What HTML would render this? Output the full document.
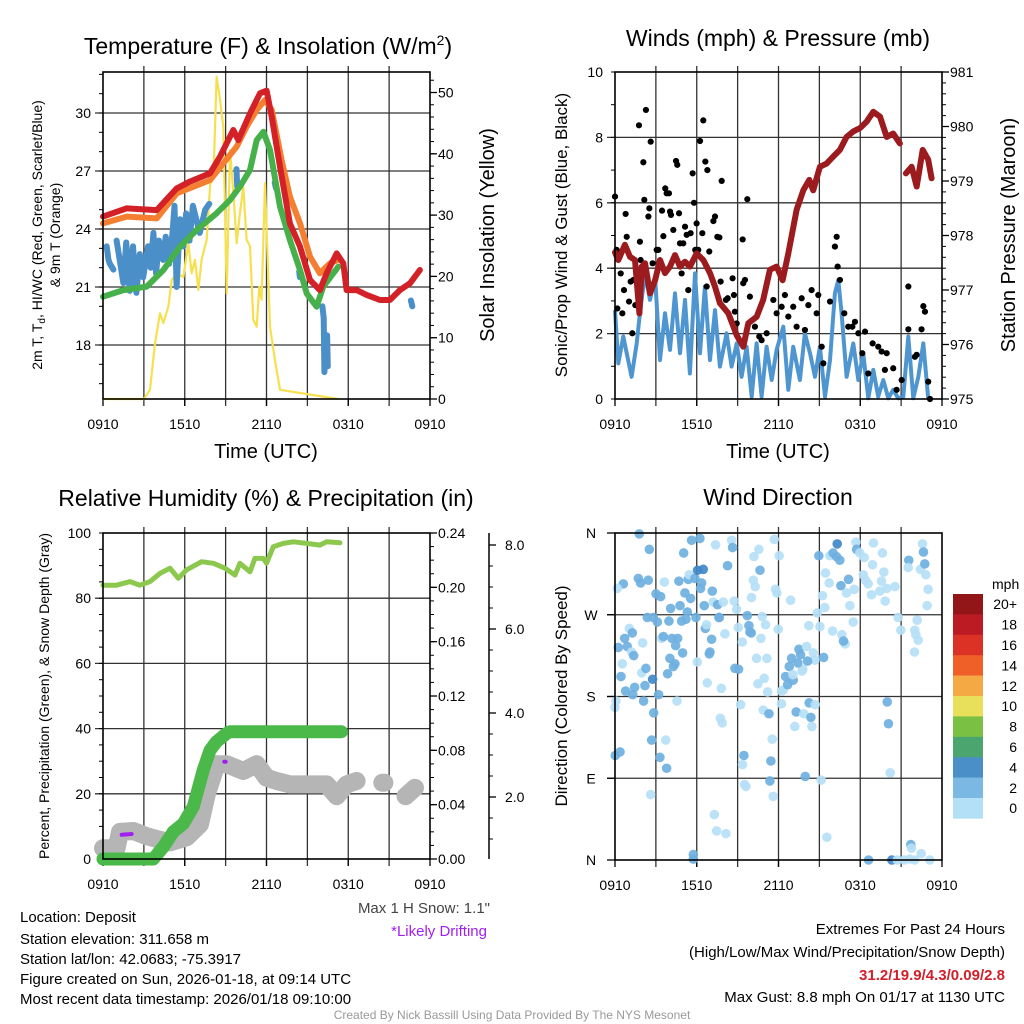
<!DOCTYPE html>
<html><head><meta charset="utf-8"><title>Deposit Meteogram</title>
<style>
html,body{margin:0;padding:0;background:#fff;}
svg{display:block;font-family:"Liberation Sans",Arial,sans-serif;}
</style></head>
<body>
<svg id="chart" width="1024" height="1024" viewBox="0 0 1024 1024" xmlns="http://www.w3.org/2000/svg">
<rect x="0" y="0" width="1024" height="1024" fill="#fff"/>
<g font-size="23" text-anchor="middle" fill="#000">
<text x="268" y="54">Temperature (F) &amp; Insolation (W/m<tspan dy="-9" font-size="14">2</tspan><tspan dy="9">)</tspan></text>
<text x="778" y="46">Winds (mph) &amp; Pressure (mb)</text>
<text x="266" y="506">Relative Humidity (%) &amp; Precipitation (in)</text>
<text x="778" y="505">Wind Direction</text>
</g>
<g fill="#000" text-anchor="middle">
<text x="266" y="458" font-size="20">Time (UTC)</text>
<text x="778" y="458" font-size="20">Time (UTC)</text>
<text font-size="14" transform="translate(42,235) rotate(-90)">2m T, T<tspan font-size="10" dy="3">d</tspan><tspan dy="-3">, HI/WC (Red, Green, Scarlet/Blue)</tspan></text>
<text font-size="14" transform="translate(60,235) rotate(-90)">&amp; 9m T (Orange)</text>
<text font-size="20" transform="translate(494,235) rotate(-90)">Solar Insolation (Yellow)</text>
<text font-size="17" transform="translate(567,235) rotate(-90)">Sonic/Prop Wind &amp; Gust (Blue, Black)</text>
<text font-size="20" transform="translate(1015,235) rotate(-90)">Station Pressure (Maroon)</text>
<text font-size="14" transform="translate(49,696) rotate(-90)">Percent, Precipitation (Green), &amp; Snow Depth (Gray)</text>
<text font-size="17" transform="translate(567,696) rotate(-90)">Direction (Colored By Speed)</text>
</g>
<g id="plots"></g>
<g font-size="15" fill="#000">
<text x="20" y="922">Location: Deposit</text>
<text x="20" y="944">Station elevation: 311.658 m</text>
<text x="20" y="964">Station lat/lon: 42.0683; -75.3917</text>
<text x="20" y="984">Figure created on Sun, 2026-01-18, at 09:14 UTC</text>
<text x="20" y="1004">Most recent data timestamp: 2026/01/18 09:10:00</text>
<text x="490" y="913" text-anchor="end" fill="#444">Max 1 H Snow: 1.1"</text>
<text x="487" y="936" text-anchor="end" fill="#a020f0">*Likely Drifting</text>
<text x="1005" y="934" text-anchor="end">Extremes For Past 24 Hours</text>
<text x="1005" y="957" text-anchor="end">(High/Low/Max Wind/Precipitation/Snow Depth)</text>
<text x="1005" y="980" text-anchor="end" fill="#d0202a" font-weight="bold">31.2/19.9/4.3/0.09/2.8</text>
<text x="1005" y="1002" text-anchor="end">Max Gust: 8.8 mph On 01/17 at 1130 UTC</text>
<text x="512" y="1019" text-anchor="middle" font-size="12" fill="#999">Created By Nick Bassill Using Data Provided By The NYS Mesonet</text>
</g>
</svg>
<script>
// ---------- data (hours since 0910 UTC) ----------
const timeTickLabels = ["0910","1510","2110","0310","0910"];
const tempTicks = [18,21,24,27,30];
const solarTicks = [0,10,20,30,40,50];
const windTicks = [0,2,4,6,8,10];
const pressTicks = [975,976,977,978,979,980,981];
const pctTicks = [0,20,40,60,80,100];
const precipTicks = [0.00,0.04,0.08,0.12,0.16,0.20,0.24];
const snowTicks = [2,4,6,8];
const dirTickLabels = ["N","E","S","W","N"];
const speedBins = ["0","2","4","6","8","10","12","14","16","18","20+"];
const speedColors = ["#b3e0f6","#7cb8e4","#4a8fc8","#4aa66e","#7ac143","#e8e05a","#f5a944","#ef6029","#dc3226","#bc1b23","#921518"];

const redT = [0,1.74,3.94,5.41,6.38,7.85,8.59,9.56,9.93,10.79,11.52,12.01,12.38,12.99,13.72,14.46,15.19,15.92,16.41,17.15,17.64,17.88,18.61,19.35,20.33,21.06,21.79,22.53,23.26];
const redV = [24.64,25.07,24.98,26.10,26.45,26.88,27.74,29.12,28.60,29.98,31.02,31.16,29.81,27.22,24.29,23.09,21.36,20.84,21.71,22.74,22.22,20.84,20.84,20.59,20.33,20.33,20.84,21.19,21.88];
const orangeT = [0,1.74,3.94,5.41,7.85,8.83,9.81,10.54,11.28,11.89,12.38,13.11,13.72,14.46,15.19,15.92,16.65,17.27];
const orangeV = [24.29,24.64,24.55,25.84,26.53,27.40,28.26,29.29,30.16,30.67,30.16,27.57,25.67,24.29,22.57,21.71,22.22,22.40];
const greenT = [0,1.50,3.21,4.43,5.65,6.87,8.34,9.32,10.05,10.79,11.28,11.77,12.26,12.99,13.72,14.46,14.95,15.68,16.17,16.90,17.27];
const greenV = [20.5,20.84,21.02,21.88,23.09,23.95,24.81,25.50,26.19,27.05,28.60,29.03,28.09,25.16,23.43,21.88,20.67,19.98,21.02,21.71,22.05];
const blueT = [0.27,0.4,0.51,0.76,null,1.0,1.5,1.7,1.95,2.2,2.45,2.7,2.95,3.3,3.5,3.7,3.9,4.1,4.4,4.6,4.85,5.1,5.25,5.4,5.65,5.9,6.1,6.35,6.6,7.1,7.5,7.8,null,9.8,9.85,null,12.6,12.7,null,14.4,14.45,null,16.1,16.2,16.25,16.35,16.45,16.5,null,22.6,22.7];
const blueV = [23.1,22.4,22.2,21.9,null,23.4,21.2,23.3,20.8,23.1,20.7,22.7,21.5,23.1,22.0,23.8,21.7,23.4,22.4,23.6,22.2,23.8,25.2,21.0,24.5,23.1,24.8,23.4,25.2,23.8,25.0,25.3,null,27.1,26.2,null,26.4,26.1,null,21.8,21.5,null,20.0,19.4,16.6,17.8,18.5,16.9,null,20.3,20.0];
const solarT = [0,3.0,3.45,3.82,4.18,4.43,4.80,5.04,5.41,5.90,6.26,6.51,6.75,7.00,7.24,7.61,7.85,8.15,8.34,8.59,8.83,9.08,9.32,9.57,9.81,10.05,10.30,10.54,10.79,11.03,11.28,11.47,11.64,11.89,12.26,12.62,12.99,17.27];
const solarV = [0,0,1.5,9.1,14.0,12.4,15.1,19.4,20.5,19.9,25.4,20.5,22.7,17.8,22.7,26.0,34.6,39.0,52.6,48.9,44.4,17.2,40.6,33.6,25.4,30.3,34.6,26.0,24.9,12.9,11.8,18.3,16.2,35.2,11.8,6.4,1.5,0];

const windT = [0,.24,.61,.86,1.22,1.59,1.83,2.20,2.57,2.94,3.30,3.67,4.04,4.40,4.77,5.14,5.50,5.87,6.24,6.60,6.97,7.34,7.70,8.19,8.56,8.93,9.29,9.66,10.03,10.39,10.76,11.13,11.50,11.86,12.35,12.72,13.08,13.57,13.94,14.31,14.68,15.04,15.41,15.78,16.14,16.39,16.63,17.00,17.49,17.86,18.22,18.59,18.96,19.32,19.69,20.06,20.42,20.79,21.16,21.53,21.89,22.26,22.63,22.99];
const windV = [2.72,1.09,1.91,1.40,.68,1.70,2.62,3.84,3.03,3.74,1.19,2.62,1.50,3.23,1.40,3.03,.78,3.84,1.40,3.44,1.19,2.72,.99,2.01,.99,1.70,.68,1.60,.07,1.70,.07,1.60,.58,1.50,2.21,.28,1.60,.58,2.01,1.40,.68,1.60,.07,1.19,3.23,3.64,2.62,.68,1.70,.58,1.40,.02,.89,.07,.58,.02,.28,.02,.07,1.91,.02,.68,1.70,.02];
const gustT = [0,.12,.17,.42,.54,.66,.78,.86,1.03,1.15,1.27,1.35,1.49,1.76,1.83,1.88,2.08,2.15,2.27,2.45,2.52,2.62,2.76,3.06,3.18,3.45,3.55,3.69,3.79,3.96,4.04,4.11,4.28,4.48,4.57,4.70,4.77,4.89,5.01,5.14,5.26,5.38,5.55,5.70,5.80,5.89,5.99,6.11,6.24,6.41,6.48,6.63,6.73,6.78,6.92,7.22,7.34,7.51,7.66,7.75,7.83,8.14,8.27,8.63,8.73,8.80,8.93,9.37,9.41,9.54,9.71,9.90,10.27,10.59,10.76,11.13,11.62,11.86,12.23,12.47,12.72,13.08,13.33,13.70,13.94,14.19,14.43,14.80,14.92,15.17,15.29,15.78,16.14,16.27,16.34,16.51,16.83,17.12,17.42,17.61,17.86,18.15,18.35,18.59,18.91,19.32,19.57,19.81,19.94,20.42,20.67,21.04,21.53,21.53,22.01,22.14,22.50,22.63,22.75,22.99,23.12];
const gustV = [6.19,4.56,2.77,3.84,2.62,3.33,5.66,4.96,2.98,3.59,2.01,3.64,2.87,8.37,4.81,4.25,7.24,6.09,8.84,5.58,5.83,7.87,4.15,4.56,4.56,5.76,4.98,6.44,6.29,6.29,5.73,5.63,5.17,7.28,7.16,5.68,4.76,3.84,4.76,5.27,5.02,3.33,5.07,6.90,6.00,4.56,5.37,4.56,7.89,5.07,8.52,7.26,3.44,7.00,4.51,5.44,5.58,4.96,4.94,3.59,6.67,3.03,3.08,3.69,3.18,2.67,2.31,4.88,3.54,3.64,6.11,3.13,2.21,1.91,1.80,2.01,3.03,2.62,2.82,3.18,2.52,2.82,2.21,3.08,2.11,2.87,3.33,2.62,3.18,1.60,1.09,2.98,4.66,4.96,4.05,3.64,2.62,2.21,2.21,2.36,2.01,1.40,2.06,.78,1.70,1.60,1.45,.89,1.40,.94,.28,.58,3.44,2.13,1.29,1.35,2.13,2.84,2.67,.53,0];
const pressT = [0,.24,.73,1.10,1.47,1.79,1.96,2.20,2.57,2.94,3.30,3.67,4.04,4.40,4.77,5.14,5.50,5.99,6.48,6.97,7.34,7.70,8.32,8.93,9.42,9.78,10.40,10.88,11.37,11.86,12.30,12.72,13.33,13.82,14.26,14.55,15.04,15.53,16.02,16.51,17.00,17.49,17.98,18.47,18.96,19.45,19.94,20.42,20.91,null,21.35,21.77,22.14,22.58,22.99,23.24];
const pressV = [977.69,977.55,977.83,977.61,977.55,976.57,977.43,977.49,976.94,977.18,977.55,977.31,977.43,977.64,977.43,977.52,977.43,977.67,977.55,977.31,977.06,976.76,976.57,976.17,975.96,976.39,976.51,976.82,977.37,977.43,977.18,977.67,978.47,978.83,979.02,978.83,979.26,979.32,979.45,979.57,979.81,979.91,979.97,980.09,980.27,980.18,979.81,979.87,979.69,null,979.14,979.26,978.90,979.57,979.39,979.05];

const rhT = [0,1.0,1.98,2.7,3.45,4.18,4.92,5.53,6.14,7.24,8.10,8.95,9.69,10.05,10.79,11.15,11.77,12.0,12.5,13.23,13.97,14.95,15.92,16.41,17.39];
const rhV = [84.0,84.0,85.1,84.0,85.1,87.6,89.2,86.1,88.7,91.2,90.7,89.2,87.1,90.7,88.1,92.2,92.2,90.7,95.8,96.8,97.3,96.8,96.3,97.3,97.0];
const precipT = [0,3.69,4.43,5.16,5.89,6.63,7.36,7.85,8.34,9.07,9.32,17.5];
const precipV = [0,0,0.009,0.020,0.026,0.0385,0.0655,0.080,0.0864,0.0925,0.0937,0.0937];
const snowT = [0,1.0,1.25,2.23,3.2,3.94,4.92,6.14,7.12,7.61,8.34,9.07,10.30,11.28,12.0,12.74,13.72,14.95,16.41,17.15,17.88,18.61,null,20.5,20.65,null,22.2,22.9];
const snowV = [0.78,0.78,1.17,1.19,1.07,1.00,0.92,1.04,1.35,2.06,2.78,2.78,2.62,2.78,2.46,2.38,2.30,2.30,2.30,2.02,2.30,2.38,null,2.34,2.34,null,2.02,2.22];
const driftT = [1.37,2.1,null,8.9,9.0];
const driftV = [1.1,1.12,null,2.84,2.84];

const dirT = [1.78,2.52,0.61,0.17,1.71,1.88,2.44,3.01,3.35,3.62,4.08,4.69,4.77,5.04,5.13,5.31,5.38,5.45,5.55,5.62,5.87,5.94,6.06,6.23,6.28,6.36,6.48,6.55,7.14,7.21,7.53,7.63,7.95,7.38,8.26,8.56,8.63,8.75,8.92,10.02,10.15,10.29,10.20,10.56,10.64,11.69,11.78,11.88,12.05,12.89,2.37,2.81,3.11,3.96,4.89,5.21,6.63,6.72,7.09,7.65,8.07,9.05,9.34,9.71,9.83,9.90,10.0,10.71,10.81,11.05,11.98,14.84,15.04,14.23,15.40,15.23,14.96,15.72,15.45,15.77,16.01,16.26,16.31,16.50,16.58,16.99,17.14,17.24,17.56,17.68,17.73,17.97,18.29,18.22,18.39,18.58,18.83,18.90,18.97,19.44,19.56,19.63,19.73,19.83,19.95,20.54,20.78,20.98,21.56,21.52,22.0,22.08,22.18,22.25,21.98,22.42,22.57,22.64,22.74,22.81,22.98,22.91,15.97,16.65,16.89,16.77,17.48,1.05,1.27,0.71,0.24,0.90,2.03,1.22,1.37,0.54,1.96,2.27,2.76,2.20,0.44,0.78,1.30,1.44,0.07,0,2.10,3.20,2.84,3.42,3.55,4.18,4.60,4.45,4.03,4.40,4.28,3.86,4.96,6.04,6.77,7.80,6.97,6.92,8.80,9.07,9.22,10.39,11.15,10.49,10.95,11.20,12.22,12.35,12.52,12.67,12.79,12.96,13.08,13.50,13.62,14.06,14.55,14.67,13.72,13.79,14.13,13.42,15.31,13.06,12.22,10.88,11.30,13.30,13.86,14.25,14.69,14.38,14.45,13.20,19.98,20.07,20.20,7.73,7.87,4.55,2.69,3.72,0.37,0.02,3.30,3.79,9.46,9.36,11.54,11.44,13.96,15.13,11.37,11.61,9.51,9.61,2.62,7.29,7.46,8.14,15.55,5.75,5.75,21.71,21.76,22.47,18.61,20.32,20.71,21.22,21.64,22.0,23.1];
const dirV = [359,342,304,299,310,305,308,293,290,306,277,307,280,338,294,273,309,314,288,352,310,267,319,354,299,305,320,280,296,284,281,267,284,347,324,352,344,285,276,289,308,301,334,342,319,353,298,294,335,286,267,267,262,263,263,265,255,259,243,267,249,256,240,269,258,251,250,244,268,259,254,272,257,258,278,291,335,305,316,335,338,334,348,330,302,294,309,280,298,350,342,338,333,314,308,304,292,325,349,296,307,338,317,285,299,301,267,253,330,322,253,248,264,242,229,320,348,339,326,314,298,280,252,248,238,241,262,255,250,244,234,235,239,229,225,216,206,211,199,192,202,186,182,190,175,168,175,182,162,244,246,244,244,236,222,216,213,205,228,218,195,189,229,227,211,210,171,222,222,194,200,185,186,187,202,193,213,222,198,232,226,235,228,220,208,210,219,217,223,204,172,165,161,163,161,173,171,157,147,147,174,150,96,156,151,175,132,132,119,115,113,101,115,105,133,109,92,88,87,70,83,81,72,50,32,29,25,6,1,17,13,7,0,0,0,0,1,0,0];
const dirS = [3,3,3,1,3,3,3,3,3,1,3,3,3,3,3,3,3,1,3,3,3,3,5,3,3,3,5,3,3,1,3,3,1,1,3,1,3,1,1,1,1,1,1,1,3,1,1,1,1,1,3,3,3,3,3,3,3,1,3,3,1,1,1,3,3,3,3,1,1,1,1,1,1,1,1,1,3,1,1,1,3,3,5,3,3,1,3,1,1,1,3,1,1,1,1,1,1,1,1,1,1,1,1,1,1,1,1,1,3,1,1,1,1,1,1,1,1,3,3,1,1,1,1,1,1,3,1,1,3,3,3,3,1,1,3,1,1,3,5,3,3,3,3,3,1,1,3,3,3,1,3,3,3,3,3,3,3,3,3,1,1,1,3,3,3,3,1,1,1,1,1,1,1,1,3,3,3,3,3,3,3,1,1,1,1,1,3,3,3,1,1,1,3,3,1,3,1,3,1,1,3,3,1,1,1,1,3,1,3,3,3,3,3,1,1,3,3,1,3,1,1,1,1,1,1,1,1,3,3,3,1,1,3,5,1,1,1,1,1,1,1,1,1,1];

// ---------- helpers ----------
const NS = "http://www.w3.org/2000/svg";
const root = document.getElementById('plots');
function mk(tag, attrs, parent){
  const e = document.createElementNS(NS, tag);
  for (const k in attrs) e.setAttribute(k, attrs[k]);
  (parent || root).appendChild(e);
  return e;
}
function pathFrom(ts, vs, fx, fy){
  let d = "", pen = false;
  for (let i = 0; i < ts.length; i++){
    if (ts[i] === null || vs[i] === null){ pen = false; continue; }
    d += (pen ? "L" : "M") + fx(ts[i]).toFixed(1) + "," + fy(vs[i]).toFixed(1);
    pen = true;
  }
  return d;
}
const dotColors = ["#b6e0f6","#6fb0e0","#3f88c8"];
function speedColor(s){
  if (s < 2) return dotColors[0];
  if (s < 4) return dotColors[1];
  if (s < 6) return dotColors[2];
  return speedColors[Math.min(10, Math.floor(s / 2))];
}

const panels = {
  temp:  {x0:103, x1:430, y0:72,  y1:399},
  wind:  {x0:615, x1:942, y0:72,  y1:399},
  rh:    {x0:103, x1:430, y0:533, y1:859},
  dir:   {x0:615, x1:942, y0:533, y1:860}
};
function xScale(p){ return t => p.x0 + t * (p.x1 - p.x0) / 24; }

function drawFrame(name, p, hGrid){
  const g = mk('g', {});
  
  
  for (let i = 1; i < 8; i++){
    const x = p.x0 + i * (p.x1 - p.x0) / 8;
    const gl = mk('line', {x1:x, x2:x, y1:p.y0 - 6, y2:p.y1 + 7, stroke:'#333', 'stroke-width':1.3}, g);
    
    
  }
  hGrid.forEach(y => {
    const hl = mk('line', {x1:p.x0 - 8, x2:p.x1, y1:y, y2:y, stroke:'#333', 'stroke-width':1.3}, g);
    
    
  });
  timeTickLabels.forEach((lab, i) => {
    const x = p.x0 + i * (p.x1 - p.x0) / 4;
    const tk = mk('line', {x1:x, x2:x, y1:p.y1, y2:p.y1 + 7, stroke:'#000', 'stroke-width':1.3}, g);
    
    
    const tx = mk('text', {x:x, y:p.y1 + 30, 'font-size':14, 'text-anchor':'middle'}, g);
    tx.textContent = lab;
    
    
  });
  return g;
}
function drawBorder(name, p){
  const r = mk('rect', {x:p.x0, y:p.y0, width:p.x1 - p.x0, height:p.y1 - p.y0, fill:'none', stroke:'#000', 'stroke-width':1.6});
  
  
}
function leftAxis(name, p, ticks, fy, fmt, minorStep, lo, hi){
  for (let v = lo; v <= hi + 1e-9; v += minorStep){
    const y = fy(v);
    if (y < p.y0 - 0.5 || y > p.y1 + 0.5) continue;
    const m = mk('line', {x1:p.x0 - 4, x2:p.x0, y1:y, y2:y, stroke:'#000', 'stroke-width':1});
    
    
  }
  ticks.forEach(v => {
    const y = fy(v);
    const tx = mk('text', {x:p.x0 - 12, y:y + 5, 'font-size':14, 'text-anchor':'end'});
    tx.textContent = fmt(v);
    
    
  });
}
function rightAxis(name, ax, p, ticks, fy, fmt, minorStep, lo, hi, dx){
  ticks.forEach(v => {
    const y = fy(v);
    const tk = mk('line', {x1:ax, x2:ax + 7, y1:y, y2:y, stroke:'#000', 'stroke-width':1.3});
    
    
    const tx = mk('text', {x:ax + dx, y:y + 5, 'font-size':14});
    tx.textContent = fmt(v);
    
    
  });
  for (let v = lo; v <= hi + 1e-9; v += minorStep){
    const y = fy(v);
    if (y < p.y0 - 0.5 || y > p.y1 + 0.5) continue;
    const m = mk('line', {x1:ax, x2:ax + 4, y1:y, y2:y, stroke:'#000', 'stroke-width':1});
    
    
  }
}

// ---------- Panel 1: temperature ----------
(function(){
  const p = panels.temp, x = xScale(p);
  const yT = v => 113 + (30 - v) * (232 / 12);
  const yI = v => 399 - v * 6.13;
  drawFrame('temp', p, tempTicks.map(yT));
  leftAxis('temp-y', p, tempTicks, yT, v => String(v), 1, 16, 32);
  rightAxis('insolation-y', p.x1, p, solarTicks, yI, v => String(v), 2, 0, 52, 8);
  const sol = mk('path', {d:pathFrom(solarT, solarV, x, yI), fill:'none', stroke:'#f7e04f', 'stroke-width':2.2, 'stroke-linejoin':'round'});
  
  
  const bl = mk('path', {d:pathFrom(blueT, blueV, x, yT), fill:'none', stroke:'#4a8fc8', 'stroke-width':6, 'stroke-linejoin':'round', 'stroke-linecap':'round'});
  
  
  const gr = mk('path', {d:pathFrom(greenT, greenV, x, yT), fill:'none', stroke:'#46b04a', 'stroke-width':6, 'stroke-linejoin':'round', 'stroke-linecap':'round'});
  
  
  const or = mk('path', {d:pathFrom(orangeT, orangeV, x, yT), fill:'none', stroke:'#f47f30', 'stroke-width':6, 'stroke-linejoin':'round', 'stroke-linecap':'round'});
  
  
  const rd = mk('path', {d:pathFrom(redT, redV, x, yT), fill:'none', stroke:'#d42027', 'stroke-width':6, 'stroke-linejoin':'round', 'stroke-linecap':'round'});
  
  
  drawBorder('temp', p);
})();

// ---------- Panel 2: winds & pressure ----------
(function(){
  const p = panels.wind, x = xScale(p);
  const yW = v => 399 - v * 32.7;
  const yP = v => 399 - (v - 975) * 54.5;
  drawFrame('wind', p, [2,4,6,8].map(yW));
  leftAxis('wind-y', p, windTicks, yW, v => String(v), 1, 0, 10);
  rightAxis('pressure-y', p.x1, p, pressTicks, yP, v => String(v), 0.2, 975, 981, 8);
  const wl = mk('path', {d:pathFrom(windT, windV, x, yW), fill:'none', stroke:'#4f96d0', 'stroke-width':4, 'stroke-linejoin':'round'});
  
  
  const g = mk('g', {});
  
  
  for (let i = 0; i < gustT.length; i++){
    const c = mk('circle', {cx:x(gustT[i]), cy:yW(gustV[i]), r:3.1, fill:'#000'}, g);
    
    
  }
  const pl = mk('path', {d:pathFrom(pressT, pressV, x, yP), fill:'none', stroke:'#9b1b1f', 'stroke-width':6, 'stroke-linejoin':'round', 'stroke-linecap':'round'});
  
  
  drawBorder('wind', p);
})();

// ---------- Panel 3: RH & precip ----------
(function(){
  const p = panels.rh, x = xScale(p);
  const yPct = v => 859 - v * 3.26;
  const yIn = v => yPct(v / 0.0024);
  const ySn = v => 881 - v * 42;
  drawFrame('rh', p, [20,40,60,80].map(yPct));
  leftAxis('rh-y', p, pctTicks, yPct, v => String(v), 5, 0, 100);
  rightAxis('precip-y', p.x1, p, precipTicks, yIn, v => v.toFixed(2), 0.01, 0, 0.24, 8);
  const ax = mk('line', {x1:489, x2:489, y1:p.y0, y2:p.y1, stroke:'#000', 'stroke-width':1.5});
  
  
  rightAxis('snow-y', 489, p, snowTicks, ySn, v => v.toFixed(1), 0.5, 0.5, 8.5, 16);
  const sn = mk('path', {d:pathFrom(snowT, snowV, x, ySn), fill:'none', stroke:'#b5b5b5', 'stroke-width':18, 'stroke-linejoin':'round', 'stroke-linecap':'round'});
  
  
  const dr = mk('path', {d:pathFrom(driftT, driftV, x, ySn), fill:'none', stroke:'#a020f0', 'stroke-width':4, 'stroke-linecap':'round'});
  
  
  const pr = mk('path', {d:pathFrom(precipT, precipV, x, yIn), fill:'none', stroke:'#4bb84a', 'stroke-width':13, 'stroke-linejoin':'round', 'stroke-linecap':'round'});
  
  
  const rh = mk('path', {d:pathFrom(rhT, rhV, x, yPct), fill:'none', stroke:'#8cc84e', 'stroke-width':5, 'stroke-linejoin':'round', 'stroke-linecap':'round'});
  
  
  drawBorder('rh', p);
})();

// ---------- Panel 4: wind direction ----------
(function(){
  const p = panels.dir, x = xScale(p);
  const yD = d => p.y1 - d * (p.y1 - p.y0) / 360;
  drawFrame('dir', p, [90,180,270].map(yD));
  dirTickLabels.forEach((lab, i) => {
    const tx = mk('text', {x:p.x0 - 24, y:yD(i * 90) + 5, 'font-size':14, 'text-anchor':'middle'});
    tx.textContent = lab;
    
    
    const tk = mk('line', {x1:p.x0 - 8, x2:p.x0, y1:yD(i * 90), y2:yD(i * 90), stroke:'#000', 'stroke-width':1.3});
    
    
  });
  const g = mk('g', {});
  
  
  for (let i = 0; i < dirT.length; i++){
    const c = mk('circle', {cx:x(dirT[i]), cy:yD(dirV[i]), r:4.8, fill:speedColor(dirS[i]), 'fill-opacity':0.92}, g);
    
    
  }
  drawBorder('dir', p);
  const lg = mk('g', {});
  
  
  const mph = mk('text', {x:992, y:589, 'font-size':14}, lg);
  mph.textContent = 'mph';
  
  
  const top = 594, h = 20.4;
  for (let i = 0; i < speedBins.length; i++){
    const k = speedBins.length - 1 - i;
    const y = top + i * h;
    const r = mk('rect', {x:953, y:y, width:30, height:h + 0.3, fill:speedColors[k]}, lg);
    
    
    const t = mk('text', {x:1017, y:y + h / 2 + 5, 'font-size':14, 'text-anchor':'end'}, lg);
    t.textContent = speedBins[k];
    
    
  }
})();
</script>
</body></html>
